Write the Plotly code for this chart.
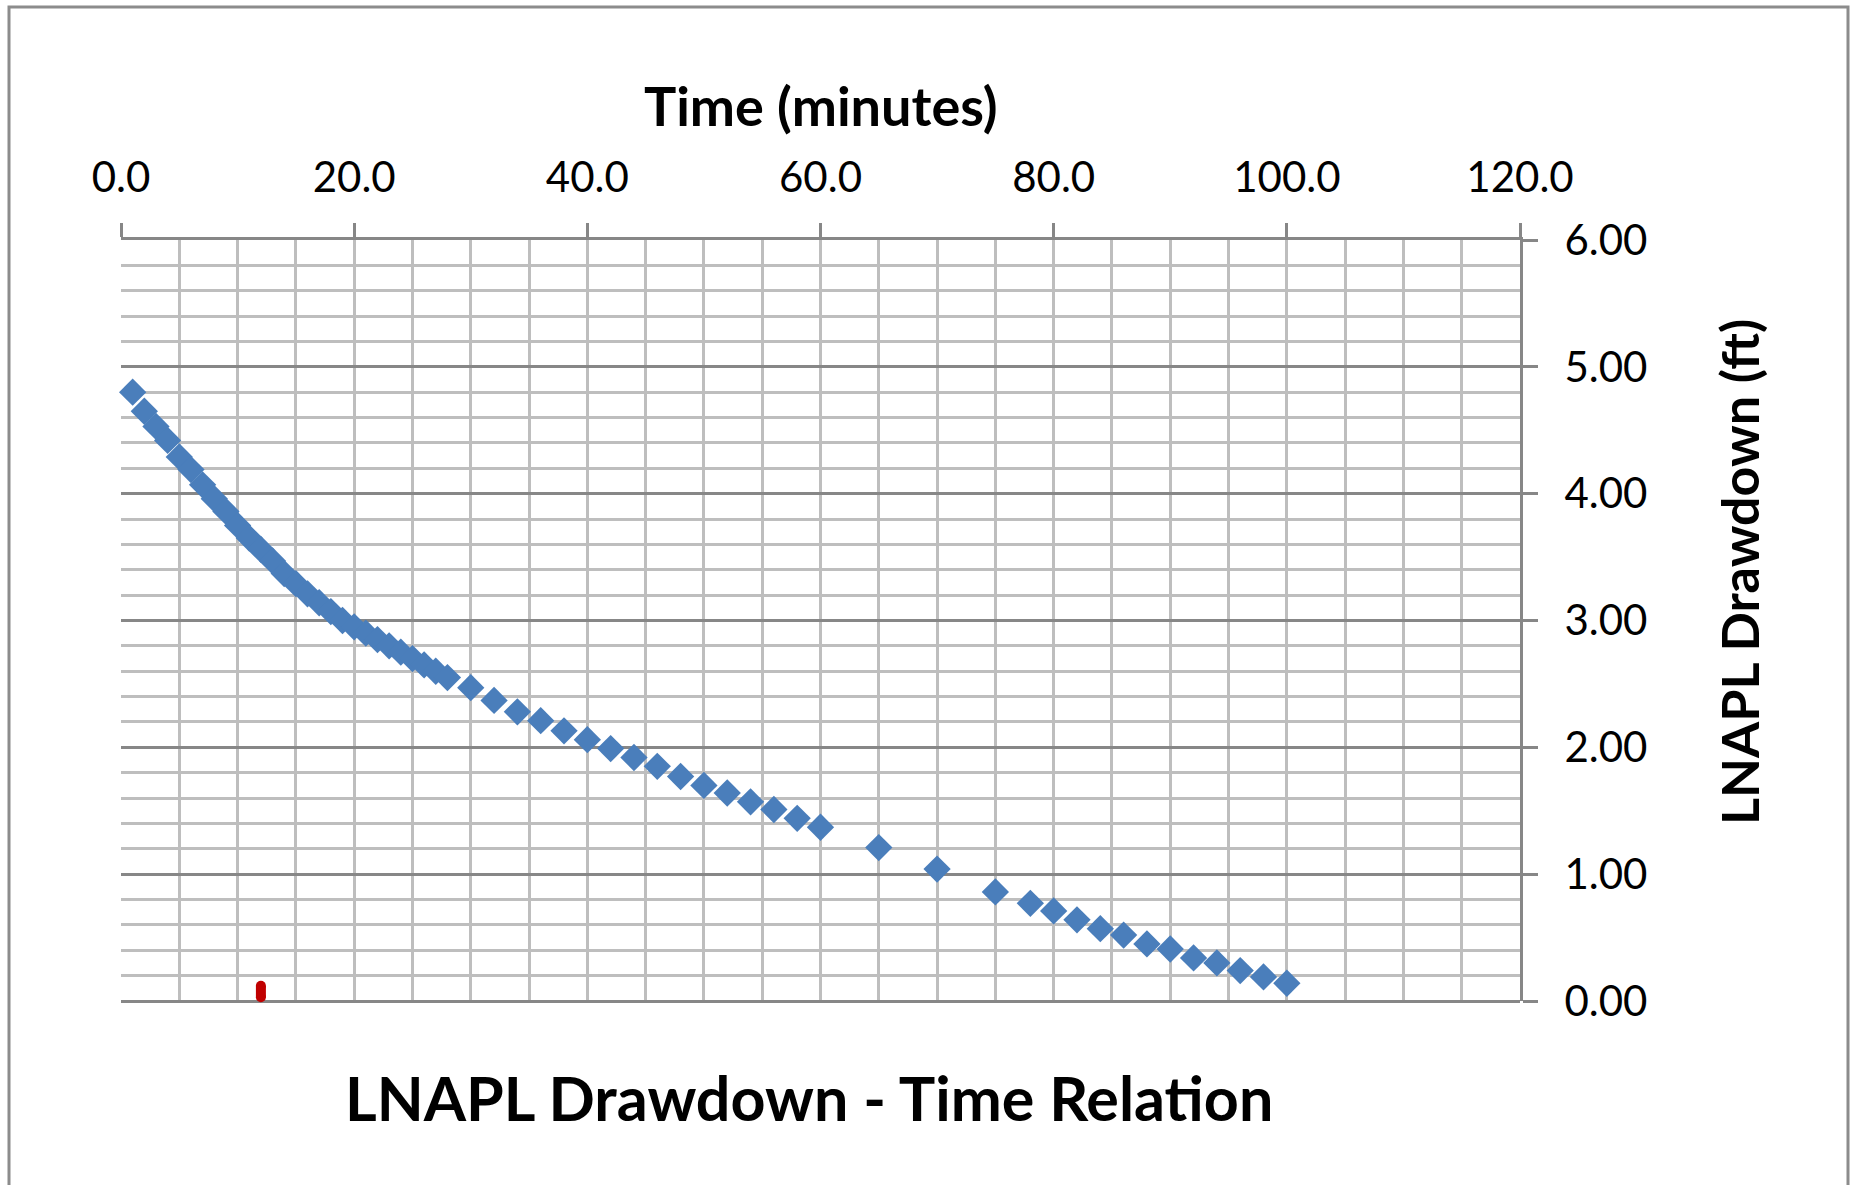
import plotly.graph_objects as go

# Time since start of the bail-down test (minutes)
time_min = [1, 2, 3, 4, 5, 6, 7, 8, 9, 10, 11, 12, 13, 14, 15, 16, 17, 18, 19, 20,
            21, 22, 23, 24, 25, 26, 27, 28,
            30, 32, 34, 36, 38, 40, 42, 44, 46, 48, 50, 52, 54, 56, 58, 60,
            65, 70, 75,
            78, 80, 82, 84, 86, 88, 90, 92, 94, 96, 98, 100]

# LNAPL drawdown measured at each time (ft)
drawdown_ft = [4.80, 4.65, 4.53, 4.42, 4.29, 4.19, 4.07, 3.96, 3.86, 3.75,
               3.65, 3.56, 3.47, 3.37, 3.29, 3.21, 3.14, 3.07, 3.00, 2.95,
               2.90, 2.85, 2.80, 2.75, 2.70, 2.65, 2.60, 2.55,
               2.47, 2.37, 2.28, 2.21, 2.13, 2.06, 1.99, 1.92, 1.85, 1.77,
               1.70, 1.64, 1.57, 1.51, 1.44, 1.37,
               1.21, 1.04, 0.86,
               0.77, 0.71, 0.64, 0.57, 0.52, 0.45, 0.41, 0.34, 0.30, 0.24,
               0.19, 0.14]

# Short red reference marker near the time axis
marker_time = [12, 12]
marker_drawdown = [0.03, 0.12]

x_ticks = [0, 20, 40, 60, 80, 100, 120]
y_ticks = [0, 1, 2, 3, 4, 5, 6]

W, H = 1855, 1185
L, R, T, B = 121, 1520, 240, 1001  # plot area in pixels


def px_x(p):
    return (p - L) / (R - L)


def px_y(p):
    return (B - p) / (B - T)


FONT = "Lato, 'Open Sans', sans-serif"
LIGHT = "#BEBEBE"
DARK = "#878787"

fig = go.Figure()

fig.add_trace(go.Scatter(
    x=time_min, y=drawdown_ft, mode="markers",
    marker=dict(symbol="diamond", size=21, color="#4A7EBB",
                line=dict(width=0)),
    showlegend=False, cliponaxis=False,
))

fig.add_trace(go.Scatter(
    x=marker_time, y=marker_drawdown, mode="lines+markers",
    line=dict(color="#C00000", width=10),
    marker=dict(symbol="circle", size=10, color="#C00000"),
    showlegend=False, cliponaxis=False,
))

fig.update_layout(
    width=W, height=H,
    margin=dict(l=L, r=W - R, t=T, b=H - B),
    paper_bgcolor="white", plot_bgcolor="white",
    font=dict(family=FONT, color="black"),
    xaxis=dict(
        side="top", range=[0, 120], tickvals=x_ticks,
        ticktext=[f"{v:.1f}" for v in x_ticks],
        ticks="outside", ticklen=14, tickwidth=3, tickcolor=DARK,
        ticklabelstandoff=14,
        tickfont=dict(size=42, family=FONT, color="black"),
        showline=True, linecolor=DARK, linewidth=3,
        showgrid=True, gridcolor=LIGHT, gridwidth=3,
        minor=dict(dtick=5, showgrid=True, gridcolor=LIGHT, gridwidth=3),
        zeroline=False, fixedrange=True,
    ),
    yaxis=dict(
        side="right", range=[0, 6], tickvals=y_ticks,
        ticktext=[f"{v:.2f}" for v in y_ticks],
        ticks="outside", ticklen=15, tickwidth=3, tickcolor=DARK,
        ticklabelstandoff=18,
        tickfont=dict(size=42, family=FONT, color="black"),
        showline=True, linecolor=DARK, linewidth=3,
        showgrid=True, gridcolor=DARK, gridwidth=3,
        minor=dict(dtick=0.2, showgrid=True, gridcolor=LIGHT, gridwidth=3),
        zeroline=True, zerolinecolor=DARK, zerolinewidth=3,
        fixedrange=True,
    ),
    annotations=[
        dict(text="<b>Time (minutes)</b>", xref="paper", yref="paper",
             x=px_x(821), y=px_y(105), xanchor="center", yanchor="middle",
             showarrow=False, font=dict(size=54, family=FONT, color="black")),
        dict(text="<b>LNAPL Drawdown (ft)</b>", xref="paper", yref="paper",
             x=px_x(1739), y=px_y(572), xanchor="center", yanchor="middle",
             textangle=-90, showarrow=False,
             font=dict(size=52, family=FONT, color="black")),
        dict(text="<b>LNAPL Drawdown - Time Relation</b>", xref="paper",
             yref="paper", x=px_x(809), y=px_y(1097), xanchor="center",
             yanchor="middle", showarrow=False,
             font=dict(size=61, family=FONT, color="black")),
    ],
    shapes=[
        dict(type="rect", xref="paper", yref="paper",
             x0=px_x(9), x1=px_x(1848), y0=px_y(1200), y1=px_y(7),
             line=dict(color="#8C8C8C", width=3), fillcolor="rgba(0,0,0,0)",
             layer="below"),
    ],
)

fig.write_html("out.html")
